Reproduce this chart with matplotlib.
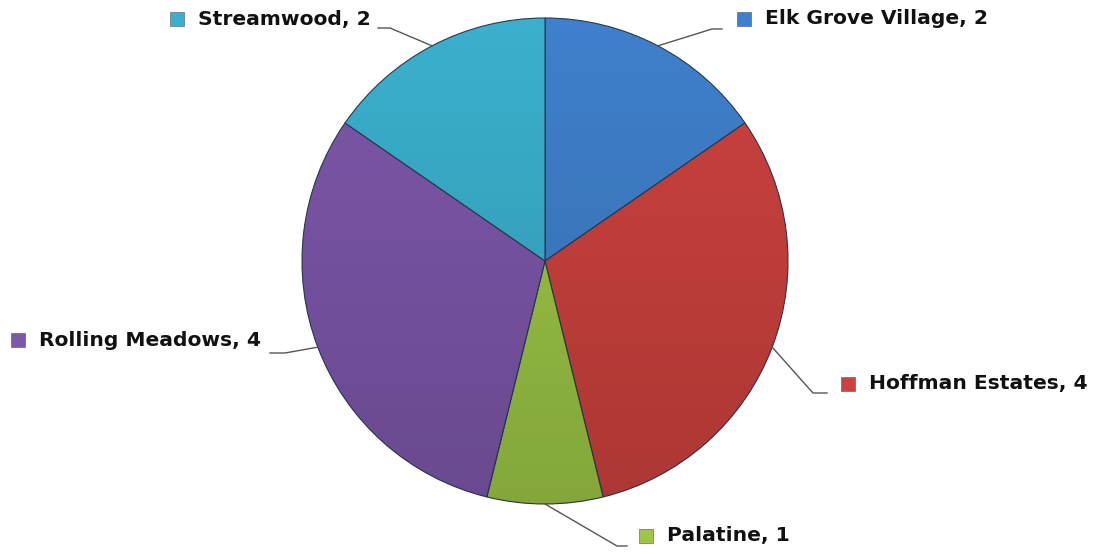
import numpy as np
import matplotlib.pyplot as plt
from matplotlib.patches import Circle

# data
cities = ['Elk Grove Village', 'Hoffman Estates', 'Palatine', 'Rolling Meadows', 'Streamwood']
counts = [2, 4, 1, 4, 2]
colors = ['#3f80cc', '#cc423e', '#9dc646', '#7d57aa', '#3ab0cd']

# label layout in pixel coords: elbow of leader line, line end, marker position
elbows = [(712, 29, 722), (813, 393, 827), (617, 546, 627), (285, 353, 270), (390, 28, 378)]
markers = [(744, 19), (848, 384), (646, 536), (18, 340), (177, 19)]

W, H = 1101, 554
cx, cy, r = 545, 261, 243

fig = plt.figure(figsize=(W / 100, H / 100), dpi=100)
ax = fig.add_axes([0, 0, 1, 1])

wedges, _ = ax.pie(counts, colors=colors, startangle=90, counterclock=False,
                   center=(cx, H - cy), radius=r,
                   wedgeprops=dict(edgecolor='#2a3a50', linewidth=0.8))

# soft top-to-bottom shading over the pie
grad = np.linspace(0, 1, 256).reshape(-1, 1)
shade = np.zeros((256, 1, 4))
shade[..., 3] = 0.16 * grad
img = ax.imshow(shade, extent=(cx - r, cx + r, H - cy - r, H - cy + r), origin='upper',
                aspect='auto', zorder=2)
img.set_clip_path(Circle((cx, H - cy), r, transform=ax.transData))

ax.set_xlim(0, W)
ax.set_ylim(0, H)
ax.set_aspect('equal')
ax.axis('off')

# leader lines from wedge middle to label
for w, (ex, ey, end) in zip(wedges, elbows):
    mid = np.deg2rad((w.theta1 + w.theta2) / 2)
    px = cx + r * np.cos(mid)
    py = cy - r * np.sin(mid)
    ax.plot([px, ex, end], [H - py, H - ey, H - ey], color='#555555', lw=1, zorder=3)

# labels: marker square + bold text
for (mx, my), name, n, c in zip(markers, cities, counts, colors):
    ax.scatter([mx], [H - my], marker='s', s=90, color=c, edgecolors='#555555',
               linewidths=0.4, zorder=3)
    ax.text(mx + 21, H - my, f'{name}, {n}', fontsize=14.6, fontweight='bold',
            family='DejaVu Sans', ha='left', va='center', color='#111111')

fig.savefig('out.png', dpi=100)
